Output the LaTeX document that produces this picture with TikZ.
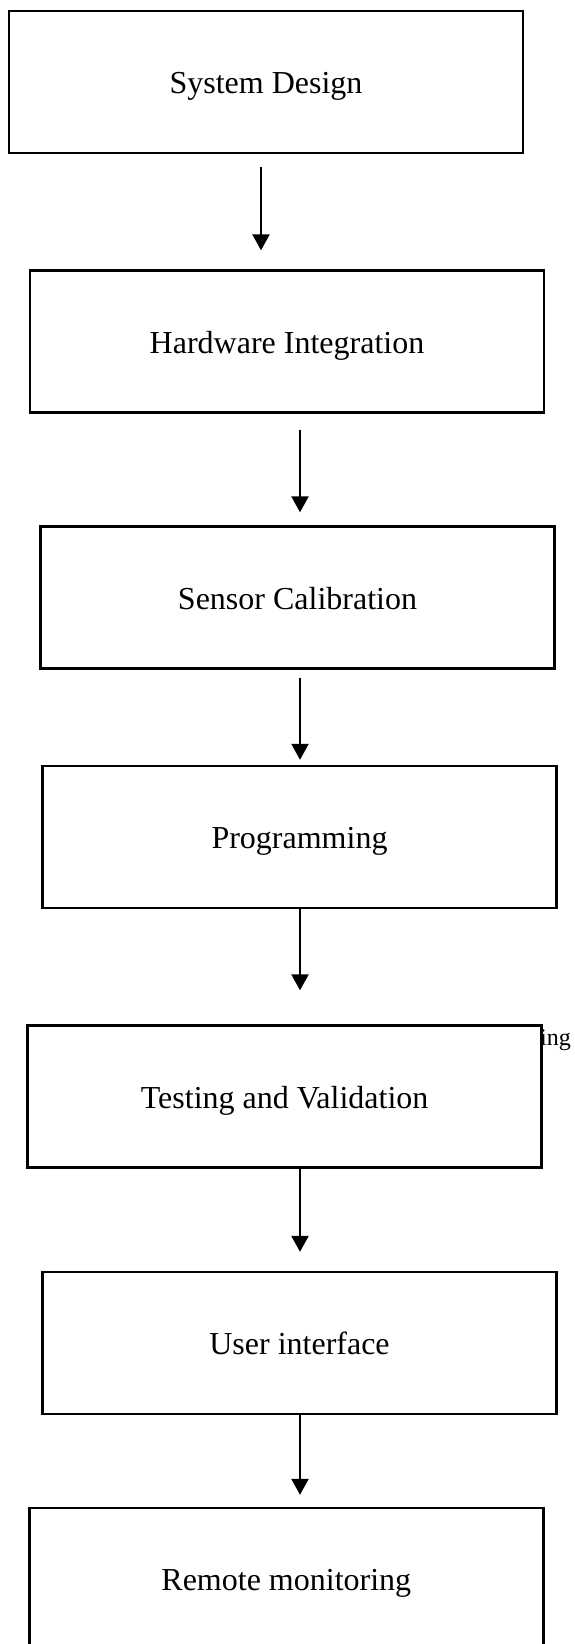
\documentclass[tikz,border=0pt]{standalone}
\usepackage{fontspec}
\setmainfont{Liberation Serif}
\usetikzlibrary{arrows.meta,calc}
\begin{document}
\begin{tikzpicture}[x=1pt,y=-1pt,
  stage/.style={draw, line width=2.4pt, fill=white, minimum width=514pt,
    minimum height=142pt, inner sep=0pt, text height=23pt, text depth=0pt,
    font=\fontsize{32}{38}\selectfont},
  flow/.style={line width=2.4pt, -{Triangle[width=17pt,length=16pt]}}]
\clip (0,0) rectangle (575,1644);
\fill[white] (0,0) rectangle (575,1644);

% leftover word fragment, partly hidden behind the testing stage
\node[anchor=base west, inner sep=0pt, font=\fontsize{24}{28}\selectfont]
  (stray) at (540,1045) {ing};

% stages of the workflow
\node[stage] (b1) at (266,82)     {System Design};
\node[stage] (b2) at (287,341.5)  {Hardware Integration};
\node[stage] (b3) at (297.5,597.5){Sensor Calibration};
\node[stage] (b4) at (299.5,837)  {Programming};
\node[stage] (b5) at (284.6,1096.5){Testing and Validation};
\node[stage] (b6) at (299.5,1343) {User interface};
\node[stage] (b7) at (286.3,1579) {Remote monitoring};

% vertical axes of the connectors
\coordinate (axA) at (261,0);
\coordinate (axB) at (300,0);

% connectors between stages
\draw[flow] ($(b1.south -| axA)+(0,13)$) -- ($(b2.north -| axA)+(0,-19)$);
\draw[flow] ($(b2.south -| axB)+(0,16)$) -- ($(b3.north -| axB)+(0,-13)$);
\draw[flow] ($(b3.south -| axB)+(0,8)$)  -- ($(b4.north -| axB)+(0,-5)$);
\draw[flow] (b4.south -| axB) -- ($(b5.north -| axB)+(0,-34)$);
\draw[flow] (b5.south -| axB) -- ($(b6.north -| axB)+(0,-19)$);
\draw[flow] (b6.south -| axB) -- ($(b7.north -| axB)+(0,-12)$);
\end{tikzpicture}
\end{document}
